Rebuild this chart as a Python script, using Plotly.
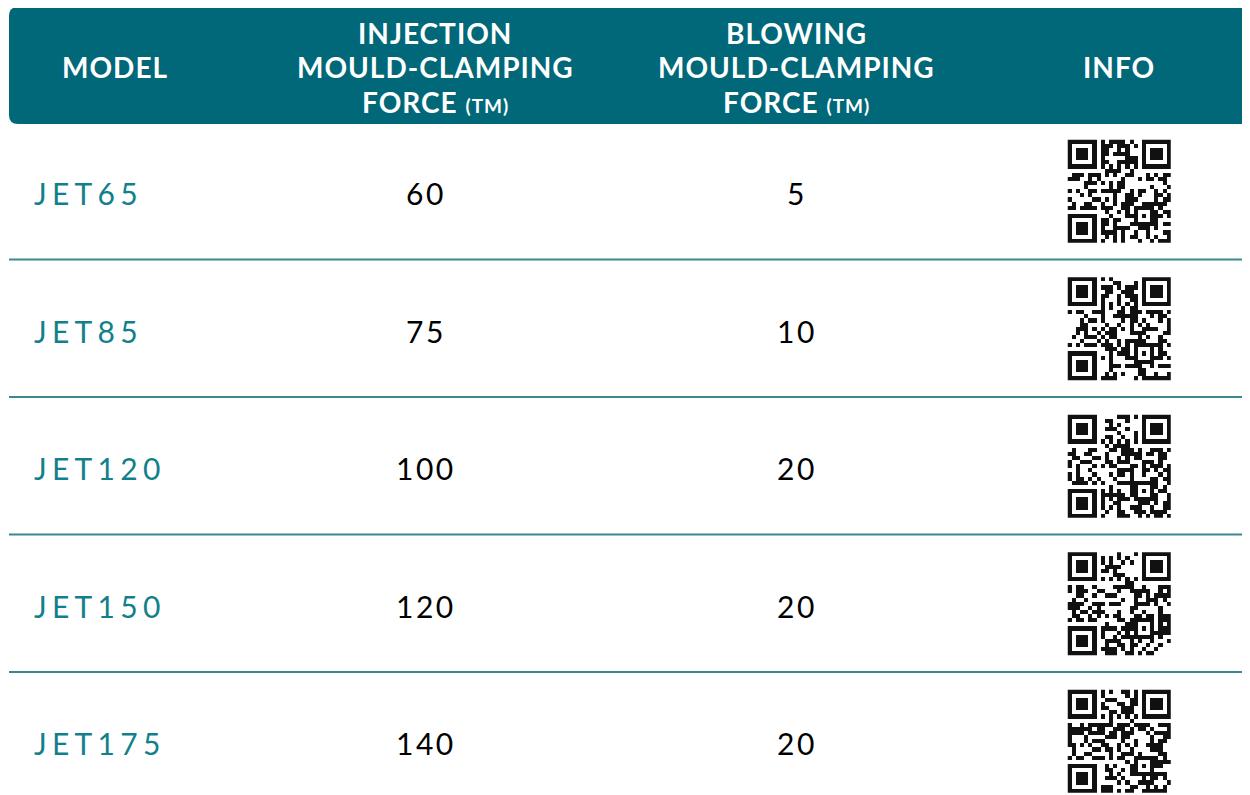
import hashlib
import numpy as np
import plotly.graph_objects as go

# ---------------- data ----------------
models = ["JET65", "JET85", "JET120", "JET150", "JET175"]
injection_force = [60, 75, 100, 120, 140]
blowing_force = [5, 10, 20, 20, 20]
header_lines = [
    ["MODEL"],
    ["INJECTION", "MOULD-CLAMPING", "FORCE <span style='font-size:19px'>(TM)</span>"],
    ["BLOWING", "MOULD-CLAMPING", "FORCE <span style='font-size:19px'>(TM)</span>"],
    ["INFO"],
]

# ---------------- style / layout ----------------
W, H = 1250, 795
OFF = 8  # page body margin compensation
TEAL = "#006878"
MODEL_COLOR = "#127F8C"
LINE_COLOR = "#3C8793"
col_x = [115, 426, 797, 1119]
head_x = [115, 435, 796, 1119]
model_x = 32
header_top, header_bot = 7, 124
header_mid, header_lh = 67, 34.5
row_top0, row_h = 122, 137.5
row_mid = 71
qr_n, qr_px = 25, 4.1
FONT = "Lato"


def qr_matrix(seed_text, n=25):
    """Decorative QR-like bitmap (finder patterns + bits from a hash of the label)."""
    m = np.zeros((n, n))
    bits = []
    h = seed_text.encode()
    while len(bits) < n * n:
        h = hashlib.md5(h).digest()
        for byte in h:
            bits.extend((byte >> k) & 1 for k in range(8))
    m[:] = np.array(bits[:n * n]).reshape(n, n)

    def finder(r, c):
        m[max(r - 1, 0):r + 8, max(c - 1, 0):c + 8] = 0
        m[r:r + 7, c:c + 7] = 1
        m[r + 1:r + 6, c + 1:c + 6] = 0
        m[r + 2:r + 5, c + 2:c + 5] = 1

    finder(0, 0)
    finder(0, n - 7)
    finder(n - 7, 0)
    a = n - 9
    m[a:a + 5, a:a + 5] = 1
    m[a + 1:a + 4, a + 1:a + 4] = 0
    m[a + 2, a + 2] = 1
    for k in range(8, n - 8):
        m[6, k] = (k + 1) % 2
        m[k, 6] = (k + 1) % 2
    return m


fig = go.Figure()

shapes = []
r = 9
x0h = 9
path = (f"M {x0h + r},{header_top} L {W + 30},{header_top} L {W + 30},{header_bot} "
        f"L {x0h + r},{header_bot} Q {x0h},{header_bot} {x0h},{header_bot - r} "
        f"L {x0h},{header_top + r} Q {x0h},{header_top} {x0h + r},{header_top} Z")
shapes.append(dict(type="path", path=path, fillcolor=TEAL, line=dict(width=0),
                   xref="x", yref="y", layer="below"))

annotations = []
for i, lines in enumerate(header_lines):
    n = len(lines)
    for j, ln in enumerate(lines):
        y = header_mid + (j - (n - 1) / 2) * header_lh
        annotations.append(dict(x=head_x[i], y=y, xref="x", yref="y",
                                text=f"<span style='letter-spacing:1px'>{ln}</span>",
                                showarrow=False, xanchor="center", yanchor="middle",
                                font=dict(family=FONT, size=28, color="white", weight="bold")))

for i, (mname, inj, blw) in enumerate(zip(models, injection_force, blowing_force)):
    top = row_top0 + i * row_h
    cy = top + row_mid
    if i > 0:
        shapes.append(dict(type="line", x0=9, x1=W + 30, y0=top, y1=top, xref="x", yref="y",
                           line=dict(color=LINE_COLOR, width=2)))
    annotations.append(dict(x=model_x, y=cy, xref="x", yref="y",
                            text=f"<span style='letter-spacing:5.3px'>{mname}</span>",
                            showarrow=False, xanchor="left", yanchor="middle",
                            font=dict(family=FONT, size=30, color=MODEL_COLOR)))
    annotations.append(dict(x=col_x[1], y=cy, xref="x", yref="y",
                            text=f"<span style='letter-spacing:2.5px'>{inj}</span>",
                            showarrow=False, xanchor="center", yanchor="middle",
                            font=dict(family=FONT, size=30, color="#000000")))
    annotations.append(dict(x=col_x[2], y=cy, xref="x", yref="y",
                            text=f"<span style='letter-spacing:2.5px'>{blw}</span>",
                            showarrow=False, xanchor="center", yanchor="middle",
                            font=dict(family=FONT, size=30, color="#000000")))
    q = qr_matrix(mname, qr_n)
    size = qr_n * qr_px
    fig.add_trace(go.Heatmap(z=q, x0=col_x[3] - size / 2 + qr_px / 2, dx=qr_px,
                             y0=cy - size / 2 + qr_px / 2 - 2, dy=qr_px,
                             colorscale=[[0, "white"], [1, "#111111"]],
                             showscale=False, zsmooth=False, hoverinfo="skip",
                             zmin=0, zmax=1))

fig.update_layout(
    width=W, height=H,
    margin=dict(l=0, r=0, t=0, b=0),
    paper_bgcolor="white", plot_bgcolor="white",
    xaxis=dict(range=[OFF, W + OFF], visible=False, fixedrange=True),
    yaxis=dict(range=[H + OFF, OFF], visible=False, fixedrange=True),
    shapes=shapes, annotations=annotations,
    showlegend=False,
)

fig.write_html("out.html")
